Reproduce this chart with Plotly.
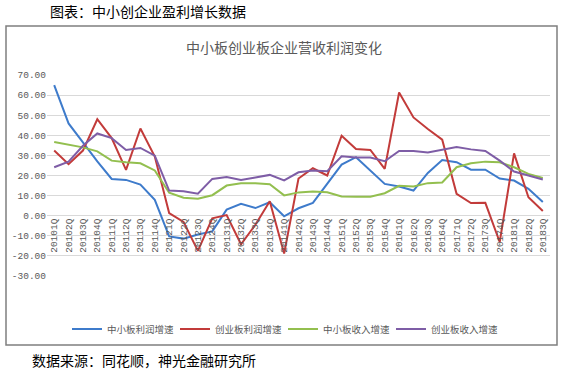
import plotly.graph_objects as go

quarters = ["20101Q", "20102Q", "20103Q", "20104Q", "20111Q", "20112Q", "20113Q", "20114Q",
            "20121Q", "20122Q", "20123Q", "20124Q", "20131Q", "20132Q", "20133Q", "20134Q",
            "20141Q", "20142Q", "20143Q", "20144Q", "20151Q", "20152Q", "20153Q", "20154Q",
            "20161Q", "20162Q", "20163Q", "20164Q", "20171Q", "20172Q", "20173Q", "20174Q",
            "20181Q", "20182Q", "20183Q"]

sme_profit = [65.0, 45.9, 36.5, 27.0, 18.3, 17.8, 15.5, 7.9,
              -10.3, -11.4, -9.4, -7.8, 3.0, 5.9, 3.8, 6.7,
              -0.3, 3.7, 6.4, 15.8, 25.4, 29.1, 22.5, 15.8,
              14.5, 12.5, 21.3, 27.7, 26.6, 22.9, 22.9, 18.5,
              17.5, 13.4, 6.8]
gem_profit = [32.4, 25.6, 32.4, 48.0, 38.6, 22.8, 43.4, 29.4,
              1.3, -3.1, -17.5, -1.3, 0.3, -14.2, -4.5, 7.2,
              -18.8, 18.5, 23.6, 20.0, 39.8, 33.2, 32.7, 23.3,
              61.3, 48.9, 43.1, 37.8, 10.9, 6.3, 6.4, -13.1,
              31.0, 9.2, 2.3]
sme_revenue = [36.7, 35.3, 34.0, 32.0, 27.4, 26.6, 26.1, 22.5,
               11.4, 8.9, 8.4, 10.2, 15.0, 16.2, 16.2, 15.7,
               10.1, 11.6, 12.1, 11.7, 9.6, 9.4, 9.4, 11.2,
               14.9, 14.5, 16.2, 16.5, 24.1, 26.1, 26.9, 26.6,
               24.1, 20.8, 18.8]
gem_revenue = [24.1, 26.9, 34.8, 40.9, 38.6, 32.7, 33.7, 29.9,
               12.5, 12.2, 10.9, 18.3, 19.2, 17.8, 19.0, 20.3,
               17.6, 21.6, 22.5, 22.1, 29.6, 28.9, 28.9, 27.1,
               32.2, 32.2, 31.4, 32.9, 34.2, 33.0, 32.2, 27.4,
               22.0, 20.0, 18.0]

series_names = ["中小板利润增速", "创业板利润增速", "中小板收入增速", "创业板收入增速"]
series_colors = ["#3E7BCB", "#C23B3A", "#93BF4F", "#7E5DA6"]
y_ticks = [-30, -20, -10, 0, 10, 20, 30, 40, 50, 60, 70]

W, H = 564, 373
L, R, T, B = 47, 14, 75, 97
PW, PH = W - L - R, H - T - B


def px(x):
    return (x - L) / PW


def py(y):
    return (H - B - y) / PH


fig = go.Figure()
for name, vals, col in zip(series_names, [sme_profit, gem_profit, sme_revenue, gem_revenue], series_colors):
    fig.add_trace(go.Scatter(x=quarters, y=vals, mode="lines", name=name,
                             line=dict(color=col, width=2)))

gray = "#595959"
fig.update_layout(
    width=W, height=H,
    margin=dict(l=L, r=R, t=T, b=B),
    paper_bgcolor="white", plot_bgcolor="white",
    showlegend=True,
    legend=dict(orientation="h", x=px(283), xanchor="center", y=py(329), yanchor="middle",
                font=dict(family="Noto Sans CJK SC", size=9.5, color=gray),
                bgcolor="rgba(0,0,0,0)", itemwidth=30, tracegroupgap=0,
                entrywidth=63, entrywidthmode="pixels"),
    xaxis=dict(type="category", range=[-0.5, len(quarters) - 0.5], anchor="free",
               position=(0 - y_ticks[0]) / (y_ticks[-1] - y_ticks[0]),
               showgrid=False, showline=False, ticks="", tickangle=-90,
               tickfont=dict(family="Liberation Mono", size=9.5, color=gray),
               zeroline=False, fixedrange=True),
    yaxis=dict(range=[y_ticks[0], y_ticks[-1]], tickvals=y_ticks,
               ticktext=[f"{v:.2f}" for v in y_ticks],
               showgrid=True, gridcolor="#D9D9D9", gridwidth=1,
               zeroline=False, showline=False, ticks="",
               tickfont=dict(family="Liberation Mono", size=9.5, color=gray)),
)

fig.add_shape(type="rect", xref="paper", yref="paper",
              x0=px(6), x1=px(557), y0=py(345), y1=py(26),
              line=dict(color="#7F7F7F", width=1.5), fillcolor="rgba(0,0,0,0)", layer="below")

fig.add_annotation(text="中小板创业板企业营收利润变化", xref="paper", yref="paper",
                   x=px(284), y=py(47), xanchor="center", yanchor="middle", showarrow=False,
                   font=dict(family="Noto Sans CJK SC", size=14, color=gray))
fig.add_annotation(text="图表：中小创企业盈利增长数据", xref="paper", yref="paper",
                   x=px(48), y=py(11), xanchor="left", yanchor="middle", showarrow=False,
                   font=dict(family="Noto Sans CJK SC", size=14, color="black"))
fig.add_annotation(text="数据来源：同花顺，神光金融研究所", xref="paper", yref="paper",
                   x=px(30), y=py(360), xanchor="left", yanchor="middle", showarrow=False,
                   font=dict(family="Noto Sans CJK SC", size=14, color="black"))

fig.write_html("out.html", config={"displayModeBar": False},
               post_script="document.body.style.margin='0';")
